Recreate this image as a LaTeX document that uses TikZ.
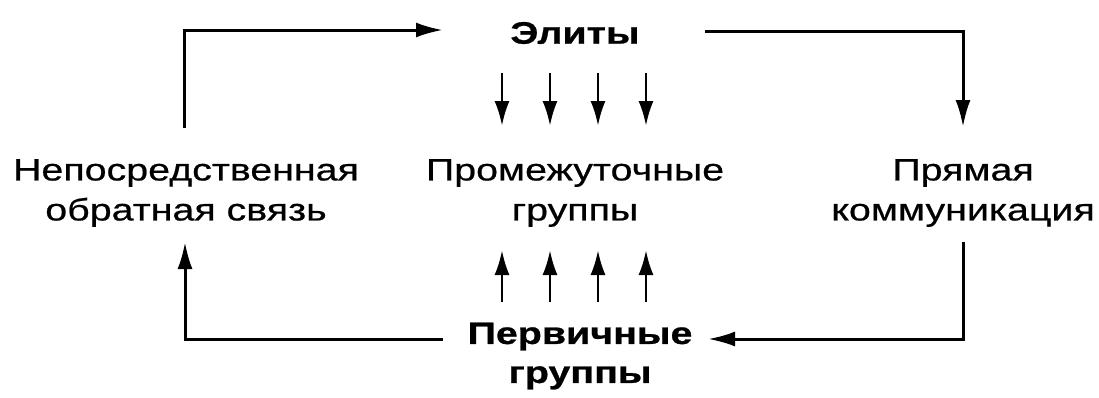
\documentclass[tikz,border=0pt]{standalone}
\usepackage{fontspec}
\setmainfont{Liberation Sans}[FakeStretch=1.27,FakeBold=0.6,BoldFeatures={FakeBold=0.8}]
\usetikzlibrary{arrows.meta}
\begin{document}
\begin{tikzpicture}[x=1pt,y=-1pt,
  lbl/.style={inner sep=0pt,align=center,font=\fontsize{31}{40}\selectfont},
  lblb/.style={lbl,font=\fontsize{31}{39}\selectfont\bfseries},
  bigarrow/.style={line width=3pt,-{Latex[length=27pt,width=15pt]}},
  smallarrow/.style={line width=2.8pt,-{Latex[length=25pt,width=15pt]}}]
\useasboundingbox (0,0) rectangle (1099,397);
\node[lblb] (elite) at (575,33) {Элиты};
\node[lbl] (mid) at (575,193) {Промежуточные\\группы};
\node[lbl] (left) at (186,193) {Непосредственная\\обратная связь};
\node[lbl] (right) at (963,193) {Прямая\\коммуникация};
\node[lblb] (prim) at (580,356) {Первичные\\группы};
% corner coordinates
\coordinate (ltop) at (184,128);
\coordinate (ein) at (443,30);
\coordinate (eout) at (705,31);
\coordinate (rtop) at (963,127);
\coordinate (rbot) at (963,242);
\coordinate (pin) at (708,339);
\coordinate (pout) at (443,339);
\coordinate (lbot) at (185,242);
\draw[bigarrow] (ltop) |- (ein);
\draw[bigarrow] (eout) -| (rtop);
\draw[bigarrow] (rbot) |- (pin);
\draw[bigarrow] (pout) -| (lbot);
\foreach \x in {502,550,598,646} {
  \draw[smallarrow] (\x,73) -- (\x,126);
  \draw[smallarrow] (\x,302) -- (\x,250);
}
\end{tikzpicture}
\end{document}
